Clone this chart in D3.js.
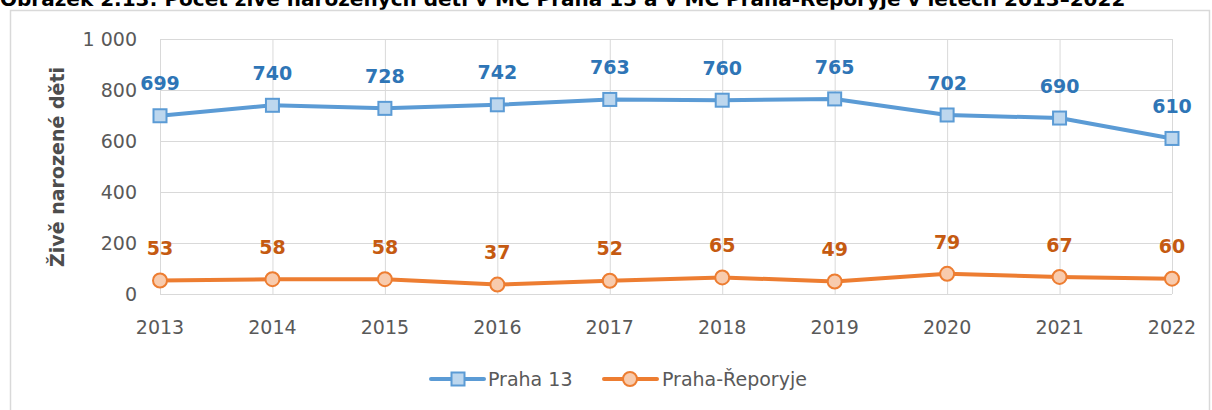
<!DOCTYPE html>
<html>
<head>
<meta charset="utf-8">
<script src="https://cdn.jsdelivr.net/npm/d3@7"></script>
<style>
  body { margin: 0; background: #fff; }
  text { font-family: "DejaVu Sans", sans-serif; }
</style>
</head>
<body>
<div id="chart"></div>
<script>
const years = ["2013", "2014", "2015", "2016", "2017", "2018", "2019", "2020", "2021", "2022"];
const praha13 = [699, 740, 728, 742, 763, 760, 765, 702, 690, 610];
const reporyje = [53, 58, 58, 37, 52, 65, 49, 79, 67, 60];
const yTicks = [0, 200, 400, 600, 800, 1000];
const seriesNames = ["Praha 13", "Praha-Řeporyje"];

const width = 1212, height = 410;
const svg = d3.select("#chart").append("svg")
    .attr("width", width)
    .attr("height", height);

// title, cut off at the top like in the original
svg.append("text")
    .attr("x", 0)
    .attr("y", 6)
    .attr("font-size", 20)
    .attr("font-weight", "bold")
    .attr("fill", "#000")
    .text("Obrázek 2.13: Počet živě narozených dětí v MČ Praha 13 a v MČ Praha-Řeporyje v letech 2013–2022");

// chart frame
svg.append("rect")
    .attr("x", 10.5).attr("y", 10.5)
    .attr("width", 1199).attr("height", 410)
    .attr("fill", "none")
    .attr("stroke", "#d9d9d9")
    .attr("stroke-width", 1.5);

const x = d3.scalePoint().domain(years).range([160, 1172]);
const y = d3.scaleLinear().domain([0, 1000]).range([294, 39]);

// gridlines
svg.append("g").selectAll("line.h")
    .data(yTicks).join("line")
    .attr("x1", 160).attr("x2", 1172)
    .attr("y1", d => y(d) + 0.5).attr("y2", d => y(d) + 0.5)
    .attr("stroke", "#d9d9d9").attr("stroke-width", 1);
svg.append("g").selectAll("line.v")
    .data(years).join("line")
    .attr("x1", d => x(d) + 0.5).attr("x2", d => x(d) + 0.5)
    .attr("y1", 39).attr("y2", 294)
    .attr("stroke", "#d9d9d9").attr("stroke-width", 1);

// y tick labels
svg.append("g").selectAll("text")
    .data(yTicks).join("text")
    .attr("x", 137)
    .attr("y", d => y(d))
    .attr("dy", "0.35em")
    .attr("text-anchor", "end")
    .attr("font-size", 19)
    .attr("fill", "#595959")
    .text(d => d === 1000 ? "1 000" : d);

// x tick labels
svg.append("g").selectAll("text")
    .data(years).join("text")
    .attr("x", d => x(d))
    .attr("y", 327)
    .attr("dy", "0.35em")
    .attr("text-anchor", "middle")
    .attr("font-size", 19)
    .attr("fill", "#595959")
    .text(d => d);

// y axis title
svg.append("text")
    .attr("transform", "translate(57,167) rotate(-90)")
    .attr("dy", "0.35em")
    .attr("text-anchor", "middle")
    .attr("font-size", 19)
    .attr("font-weight", "bold")
    .attr("fill", "#4d4d4d")
    .text("Živě narozené děti");

const line = d3.line().x((d, i) => x(years[i])).y(d => y(d));

function drawSeries(values, color, fill, labelColor, shape) {
    svg.append("path")
        .datum(values)
        .attr("d", line)
        .attr("fill", "none")
        .attr("stroke", color)
        .attr("stroke-width", 4)
        .attr("stroke-linejoin", "round")
        .attr("stroke-linecap", "round");

    const g = svg.append("g");
    if (shape === "square") {
        g.selectAll("rect").data(values).join("rect")
            .attr("x", (d, i) => x(years[i]) - 6.5)
            .attr("y", d => y(d) - 6.5)
            .attr("width", 13).attr("height", 13)
            .attr("fill", fill).attr("stroke", color).attr("stroke-width", 2);
    } else {
        g.selectAll("circle").data(values).join("circle")
            .attr("cx", (d, i) => x(years[i]))
            .attr("cy", d => y(d))
            .attr("r", 7)
            .attr("fill", fill).attr("stroke", color).attr("stroke-width", 2);
    }

    svg.append("g").selectAll("text").data(values).join("text")
        .attr("x", (d, i) => x(years[i]))
        .attr("y", d => y(d) - 32)
        .attr("dy", "0.35em")
        .attr("text-anchor", "middle")
        .attr("font-size", 19)
        .attr("font-weight", "bold")
        .attr("fill", labelColor)
        .text(d => d);
}

drawSeries(praha13, "#5b9bd5", "#bdd7ee", "#2e75b6", "square");
drawSeries(reporyje, "#ed7d31", "#f8cbad", "#c55a11", "circle");

// legend
const legend = svg.append("g");
legend.append("line")
    .attr("x1", 431).attr("x2", 484).attr("y1", 379).attr("y2", 379)
    .attr("stroke", "#5b9bd5").attr("stroke-width", 4).attr("stroke-linecap", "round");
legend.append("rect")
    .attr("x", 451.5).attr("y", 372.5).attr("width", 13).attr("height", 13)
    .attr("fill", "#bdd7ee").attr("stroke", "#5b9bd5").attr("stroke-width", 2);
legend.append("text")
    .attr("x", 488).attr("y", 379).attr("dy", "0.35em")
    .attr("font-size", 19).attr("fill", "#595959")
    .text(seriesNames[0]);
legend.append("line")
    .attr("x1", 604).attr("x2", 657).attr("y1", 379).attr("y2", 379)
    .attr("stroke", "#ed7d31").attr("stroke-width", 4).attr("stroke-linecap", "round");
legend.append("circle")
    .attr("cx", 630).attr("cy", 379).attr("r", 7)
    .attr("fill", "#f8cbad").attr("stroke", "#ed7d31").attr("stroke-width", 2);
legend.append("text")
    .attr("x", 662).attr("y", 379).attr("dy", "0.35em")
    .attr("font-size", 19).attr("fill", "#595959")
    .text(seriesNames[1]);
</script>
</body>
</html>
